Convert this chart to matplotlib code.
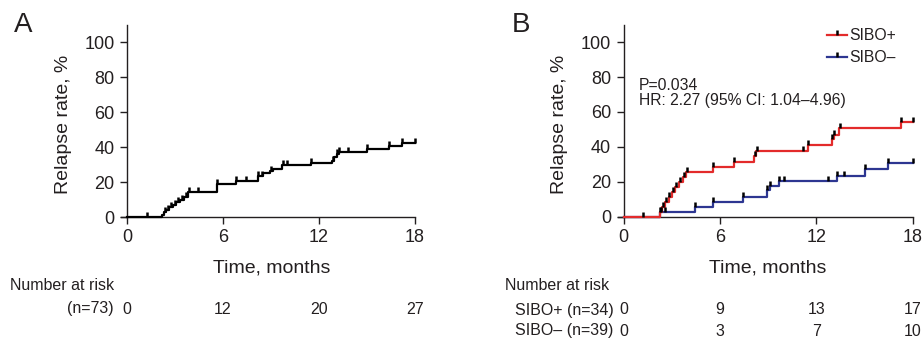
import numpy as np
import matplotlib
matplotlib.use("Agg")
import matplotlib.pyplot as plt
from matplotlib.lines import Line2D
from matplotlib.transforms import blended_transform_factory

plt.rcParams['font.family'] = ['Liberation Sans', 'DejaVu Sans']

# ---------------- data ----------------
x_ticks = [0, 6, 12, 18]
y_ticks = [0, 20, 40, 60, 80, 100]

# Panel A: all patients (step times, cumulative relapse %)
times_all = [0, 2.2, 2.3, 2.45, 2.6, 2.85, 3.05, 3.3, 3.55, 3.8, 5.6, 6.8, 8.2, 8.5,
             8.95, 9.1, 9.7, 11.5, 12.8, 12.95, 13.1, 13.25, 15.0, 16.4, 17.2]
values_all = [0, 1.4, 2.8, 4.2, 5.6, 7.0, 8.4, 9.8, 11.2, 14.5, 18.8, 20.9, 23.6, 25.0,
              26.6, 27.7, 29.9, 30.8, 31.8, 34.2, 36.1, 37.2, 38.7, 40.8, 42.3]
censor_all = [1.25, 2.35, 2.55, 2.75, 3.0, 3.2, 3.45, 3.7, 3.85, 4.45, 5.6, 6.8, 7.45,
              8.2, 8.45, 9.0, 9.75, 10.0, 11.5, 12.9, 13.1, 13.25, 13.8, 15.0, 16.4,
              17.2, 18.0]

# Panel B: SIBO+ and SIBO-
times_pos = [0, 2.27, 2.4, 2.6, 2.8, 3.0, 3.2, 3.45, 3.7, 3.9, 5.6, 6.85, 8.15, 8.25,
             11.5, 12.95, 13.1, 13.4, 17.25]
values_pos = [0, 2.9, 5.7, 8.6, 11.4, 14.3, 17.1, 20.0, 22.9, 25.4, 28.3, 31.3, 34.7,
              37.5, 41.0, 44.3, 47.0, 50.6, 54.1]
censor_pos = [1.23, 2.3, 2.45, 2.65, 2.85, 3.05, 3.25, 3.5, 3.75, 3.95, 5.6, 6.85, 8.2,
              8.3, 11.2, 11.5, 12.95, 13.1, 13.45, 17.25, 18.0]

times_neg = [0, 2.3, 4.45, 5.6, 7.45, 8.95, 9.1, 9.7, 13.3, 15.0, 16.45]
values_neg = [0, 2.9, 5.6, 8.6, 11.4, 15.2, 17.6, 20.5, 23.4, 27.1, 30.9]
censor_neg = [2.35, 2.6, 4.45, 5.6, 7.45, 8.95, 9.1, 9.7, 10.0, 12.75, 13.3, 13.75,
              15.0, 16.45, 18.0]

risk_times = [0, 6, 12, 18]
risk_all = [0, 12, 20, 27]
risk_pos = [0, 9, 13, 17]
risk_neg = [0, 3, 7, 10]

series_labels = ['SIBO+', 'SIBO\u2013']
series_colors = ['#e32b2b', '#2d3691']

p_text = 'P=0.034'
hr_text = 'HR: 2.27 (95% CI: 1.04\u20134.96)'

# ---------------- layout helpers ----------------
W, H = 922, 342
def fx(px):
    return px / W
def fy(py):
    return 1 - py / H

fig = plt.figure(figsize=(W / 100, H / 100), dpi=100)
axA = fig.add_axes([fx(121.4), fy(217), 293.6 / W, 192 / H])
axB = fig.add_axes([fx(617.9), fy(216.7), 294.8 / W, 192 / H])

AX_COL = '#231f20'
FS_TICK = 13
FS_LABEL = 14
FS_SMALL = 11.3
FS_RISK = 11.5


def style(ax):
    ax.set_xlim(-0.35, 18)
    ax.set_ylim(0, 110)
    ax.spines[['top', 'right']].set_visible(False)
    ax.spines['left'].set_position(('data', 0))
    for s in ['left', 'bottom']:
        ax.spines[s].set_linewidth(1.0)
        ax.spines[s].set_color(AX_COL)
    ax.set_xticks(x_ticks)
    ax.set_yticks(y_ticks)
    ax.tick_params(direction='out', length=5, width=1, labelsize=FS_TICK, pad=4,
                   color=AX_COL, labelcolor=AX_COL)


def step_value(times, values, t):
    idx = np.searchsorted(np.asarray(times), np.asarray(t), side='right') - 1
    return np.asarray(values)[idx]


def draw_km(ax, times, values, censor, color):
    t = list(times) + [max(censor)]
    v = list(values) + [values[-1]]
    ax.step(t, v, where='post', color=color, lw=1.6, clip_on=False, zorder=3)
    cy = step_value(times, values, censor)
    ax.plot(censor, cy, linestyle='none', marker=2, markersize=3.3, mew=1.8,
            color='black', clip_on=False, zorder=4)


for ax in (axA, axB):
    style(ax)

draw_km(axA, times_all, values_all, censor_all, 'black')
draw_km(axB, times_neg, values_neg, censor_neg, series_colors[1])
draw_km(axB, times_pos, values_pos, censor_pos, series_colors[0])

# axis labels
for ax, x0 in ((axA, 127), (axB, 623.5)):
    fig.text(fx(x0 - 64), fy(124), 'Relapse rate, %', rotation=90, ha='center',
             va='center', fontsize=FS_LABEL, color=AX_COL)
    fig.text(fx(x0 + 144.5), fy(268), 'Time, months', ha='center', va='center',
             fontsize=FS_LABEL, color=AX_COL)

# panel letters
fig.text(fx(14), fy(25), 'A', fontsize=20, ha='left', va='center', color=AX_COL)
fig.text(fx(512), fy(25), 'B', fontsize=20, ha='left', va='center', color=AX_COL)

# stats text
fig.text(fx(639), fy(86), p_text, fontsize=FS_SMALL, ha='left', va='center', color=AX_COL)
fig.text(fx(639), fy(100), hr_text, fontsize=FS_SMALL, ha='left', va='center', color=AX_COL)

# legend
for lab, col, yy in zip(series_labels, series_colors, (35, 57)):
    fig.add_artist(Line2D([fx(827), fx(847)], [fy(yy), fy(yy)], color=col, lw=1.6))
    fig.add_artist(Line2D([fx(837)], [fy(yy)], marker=2, markersize=3.3, mew=1.8,
                          color='black', linestyle='none'))
    fig.text(fx(849), fy(yy), lab, fontsize=FS_SMALL, ha='left', va='center', color=AX_COL)

# number at risk tables
fig.text(fx(10), fy(286), 'Number at risk', fontsize=FS_RISK, ha='left', va='center', color=AX_COL)
fig.text(fx(114), fy(309), '(n=73)', fontsize=FS_RISK, ha='right', va='center', color=AX_COL)
trA = blended_transform_factory(axA.transData, fig.transFigure)
for t, n in zip(risk_times, risk_all):
    fig.text(t, fy(309), str(n), transform=trA, fontsize=FS_RISK, ha='center', va='center',
             color=AX_COL)

fig.text(fx(505), fy(286), 'Number at risk', fontsize=FS_RISK, ha='left', va='center', color=AX_COL)
fig.text(fx(515), fy(310), 'SIBO+ (n=34)', fontsize=FS_RISK, ha='left', va='center', color=AX_COL)
fig.text(fx(515), fy(331), 'SIBO\u2013 (n=39)', fontsize=FS_RISK, ha='left', va='center', color=AX_COL)
trB = blended_transform_factory(axB.transData, fig.transFigure)
for t, n1, n2 in zip(risk_times, risk_pos, risk_neg):
    fig.text(t, fy(310), str(n1), transform=trB, fontsize=FS_RISK, ha='center', va='center',
             color=AX_COL)
    fig.text(t, fy(331), str(n2), transform=trB, fontsize=FS_RISK, ha='center', va='center',
             color=AX_COL)

fig.savefig('out.png', dpi=100)
